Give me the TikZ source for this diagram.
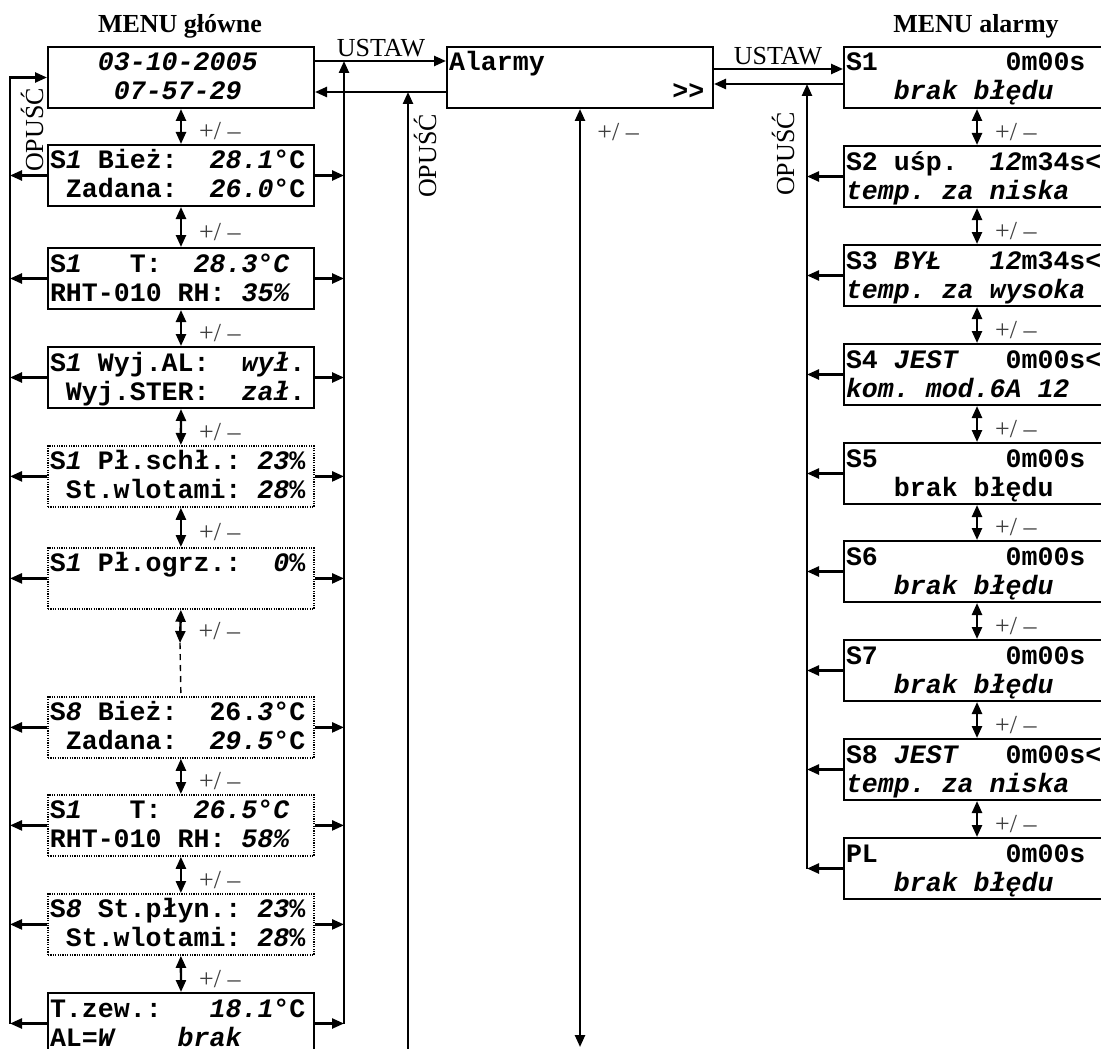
\documentclass[tikz,border=0pt]{standalone}
\usepackage{fontspec}
\setmainfont{Liberation Serif}
\setmonofont{Liberation Mono}
\usetikzlibrary{arrows.meta}
\newcommand{\ital}[1]{{\itshape #1}}
\newcommand{\lcdstrut}{\rule[-3pt]{0pt}{14pt}}
\newcommand{\lcdlines}[2]{{\def~{\hphantom{0}}\lcdstrut#1\\\lcdstrut#2}}
\tikzset{
  scr/.style={draw,line width=1pt,anchor=north west,minimum height=30.5pt,
    inner xsep=1pt,inner ysep=0pt,text width=131pt,align=left,
    font=\ttfamily\bfseries\fontsize{13.3}{14.5}\selectfont},
  scrdot/.style={scr,line width=0.9pt,dash pattern=on 0.6pt off 0.6pt},
  arr/.style={line width=1.2pt,-{Triangle[length=6pt,width=5pt]}},
  updown/.style={line width=1.2pt,{Triangle[length=6pt,width=5pt]}-{Triangle[length=6pt,width=5pt]}},
  pm/.style={anchor=west,inner sep=0pt,xshift=8.5pt,yshift=-2.5pt,text=black!75,
    font=\fontsize{13}{15}\selectfont},
  lbl/.style={font=\fontsize{13}{15}\selectfont},
  ttl/.style={anchor=base,font=\bfseries\fontsize{13}{15}\selectfont}
}
\begin{document}
\begin{tikzpicture}[x=0.5pt,y=-0.5pt]
  \useasboundingbox (0,0) rectangle (1101,1048);
  \coordinate (lbus) at (10,0);
  \coordinate (rbus) at (344,0);
  \coordinate (obus) at (408,0);
  \coordinate (abus) at (807,0);
  \coordinate (ust1) at (0,61);
  \coordinate (opu1) at (0,92);
  \coordinate (ust2) at (0,69);
  \coordinate (opu2) at (0,84);
  \coordinate (bot) at (0,1047);
  \coordinate (far) at (0,1070);
  \coordinate (gap) at (180,643);

  \node[ttl] (t1) at (180,33) {MENU główne};
  \node[ttl] (t2) at (976,33) {MENU alarmy};

  \node[scr] (m1) at (47,46) {\lcdlines{~~~\ital{03-10-2005}}{~~~~\ital{07-57-29}}};
  \node[scr] (m2) at (47,144) {\lcdlines{S\ital{1}~Bież:~~\ital{28.1}°C}{~Zadana:~~\ital{26.0}°C}};
  \node[scr] (m3) at (47,247) {\lcdlines{S\ital{1}~~~T:~~\ital{28.3°C}}{RHT-010~RH:~\ital{35\%}}};
  \node[scr] (m4) at (47,346) {\lcdlines{S\ital{1}~Wyj.AL:~~\ital{wył}.}{~Wyj.STER:~~\ital{zał}.}};
  \node[scrdot] (m5) at (47,445) {\lcdlines{S\ital{1}~Pł.schł.:~\ital{23}\%}{~St.wlotami:~\ital{28}\%}};
  \node[scrdot] (m6) at (47,547) {\lcdlines{S\ital{1}~Pł.ogrz.:~~\ital{0}\%}{}};
  \node[scrdot] (m7) at (47,696) {\lcdlines{S\ital{8}~Bież:~~26.\ital{3}°C}{~Zadana:~~\ital{29.5}°C}};
  \node[scrdot] (m8) at (47,794) {\lcdlines{S\ital{1}~~~T:~~\ital{26.5°C}}{RHT-010~RH:~\ital{58\%}}};
  \node[scrdot] (m9) at (47,893) {\lcdlines{S\ital{8}~St.płyn.:~\ital{23}\%}{~St.wlotami:~\ital{28}\%}};
  \node[scr] (m10) at (47,992) {\lcdlines{T.zew.:~~~\ital{18.1}°C}{AL=\ital{W}~~~~\ital{brak}}};

  \node[scr] (alarmy) at (446,46) {\lcdlines{Alarmy}{~~~~~~~~~~~~~~>>}};

  \node[scr] (a1) at (843,46) {\lcdlines{S1~~~~~~~~0m00s}{~~~\ital{brak~błędu}}};
  \node[scr] (a2) at (843,145) {\lcdlines{S2~uśp.~~\ital{12}m34s<}{\ital{temp.~za~niska}}};
  \node[scr] (a3) at (843,244) {\lcdlines{S3~\ital{BYŁ}~~~\ital{12}m34s<}{\ital{temp.~za~wysoka}}};
  \node[scr] (a4) at (843,343) {\lcdlines{S4~\ital{JEST}~~~0m00s<}{\ital{kom.~mod.6A~12}}};
  \node[scr] (a5) at (843,442) {\lcdlines{S5~~~~~~~~0m00s}{~~~brak~błędu}};
  \node[scr] (a6) at (843,540) {\lcdlines{S6~~~~~~~~0m00s}{~~~\ital{brak~błędu}}};
  \node[scr] (a7) at (843,639) {\lcdlines{S7~~~~~~~~0m00s}{~~~\ital{brak~błędu}}};
  \node[scr] (a8) at (843,738) {\lcdlines{S8~\ital{JEST}~~~0m00s<}{\ital{temp.~za~niska}}};
  \node[scr] (a9) at (843,837) {\lcdlines{PL~~~~~~~~0m00s}{~~~\ital{brak~błędu}}};

  \draw[updown] (m1.south) -- node[pm] {+/ –} (m2.north);
  \draw[updown] (m2.south) -- node[pm] {+/ –} (m3.north);
  \draw[updown] (m3.south) -- node[pm] {+/ –} (m4.north);
  \draw[updown] (m4.south) -- node[pm] {+/ –} (m5.north);
  \draw[updown] (m5.south) -- node[pm] {+/ –} (m6.north);
  \draw[updown] (m6.south) -- node[pm] {+/ –} (gap);
  \draw[line width=0.7pt,dash pattern=on 3pt off 2.5pt] (gap) -- (m7.north);
  \draw[updown] (m7.south) -- node[pm] {+/ –} (m8.north);
  \draw[updown] (m8.south) -- node[pm] {+/ –} (m9.north);
  \draw[updown] (m9.south) -- node[pm] {+/ –} (m10.north);

  \draw[arr] (m2.west) -- (m2.west -| lbus);
  \draw[arr] (m3.west) -- (m3.west -| lbus);
  \draw[arr] (m4.west) -- (m4.west -| lbus);
  \draw[arr] (m5.west) -- (m5.west -| lbus);
  \draw[arr] (m6.west) -- (m6.west -| lbus);
  \draw[arr] (m7.west) -- (m7.west -| lbus);
  \draw[arr] (m8.west) -- (m8.west -| lbus);
  \draw[arr] (m9.west) -- (m9.west -| lbus);
  \draw[arr] (m10.west) -- (m10.west -| lbus);
  \draw[arr] (m10.west -| lbus) -- (m1.west -| lbus) -- (m1.west);
  \node[lbl,rotate=90,anchor=base] (o1) at (43,130) {OPUŚĆ};

  \draw[arr] (m2.east) -- (m2.east -| rbus);
  \draw[arr] (m3.east) -- (m3.east -| rbus);
  \draw[arr] (m4.east) -- (m4.east -| rbus);
  \draw[arr] (m5.east) -- (m5.east -| rbus);
  \draw[arr] (m6.east) -- (m6.east -| rbus);
  \draw[arr] (m7.east) -- (m7.east -| rbus);
  \draw[arr] (m8.east) -- (m8.east -| rbus);
  \draw[arr] (m9.east) -- (m9.east -| rbus);
  \draw[arr] (m10.east) -- (m10.east -| rbus);
  \draw[arr] (m10.east -| rbus) -- (rbus |- ust1);

  \draw[arr] (m1.east |- ust1) -- (alarmy.west |- ust1);
  \node[lbl,anchor=base] (u1) at (381,57) {USTAW};
  \draw[arr] (alarmy.west |- opu1) -- (m1.east |- opu1);
  \draw[arr] (obus |- far) -- (obus |- opu1);
  \node[lbl,rotate=90,anchor=base] (o2) at (436,156) {OPUŚĆ};
  \draw[updown] (alarmy.south) -- (alarmy.south |- bot);
  \node[pm] (pmA) at (alarmy.south |- 0,127) {+/ –};

  \draw[arr] (alarmy.east |- ust2) -- (a1.west |- ust2);
  \node[lbl,anchor=base] (u2) at (778,65) {USTAW};
  \draw[arr] (a1.west |- opu2) -- (alarmy.east |- opu2);

  \draw[updown] (a1.south) -- node[pm] {+/ –} (a2.north);
  \draw[updown] (a2.south) -- node[pm] {+/ –} (a3.north);
  \draw[updown] (a3.south) -- node[pm] {+/ –} (a4.north);
  \draw[updown] (a4.south) -- node[pm] {+/ –} (a5.north);
  \draw[updown] (a5.south) -- node[pm] {+/ –} (a6.north);
  \draw[updown] (a6.south) -- node[pm] {+/ –} (a7.north);
  \draw[updown] (a7.south) -- node[pm] {+/ –} (a8.north);
  \draw[updown] (a8.south) -- node[pm] {+/ –} (a9.north);

  \draw[arr] (a2.west) -- (a2.west -| abus);
  \draw[arr] (a3.west) -- (a3.west -| abus);
  \draw[arr] (a4.west) -- (a4.west -| abus);
  \draw[arr] (a5.west) -- (a5.west -| abus);
  \draw[arr] (a6.west) -- (a6.west -| abus);
  \draw[arr] (a7.west) -- (a7.west -| abus);
  \draw[arr] (a8.west) -- (a8.west -| abus);
  \draw[arr] (a9.west) -- (a9.west -| abus);
  \draw[arr] (a9.west -| abus) -- (abus |- opu2);
  \node[lbl,rotate=90,anchor=base] (o3) at (794,154) {OPUŚĆ};
\end{tikzpicture}
\end{document}
